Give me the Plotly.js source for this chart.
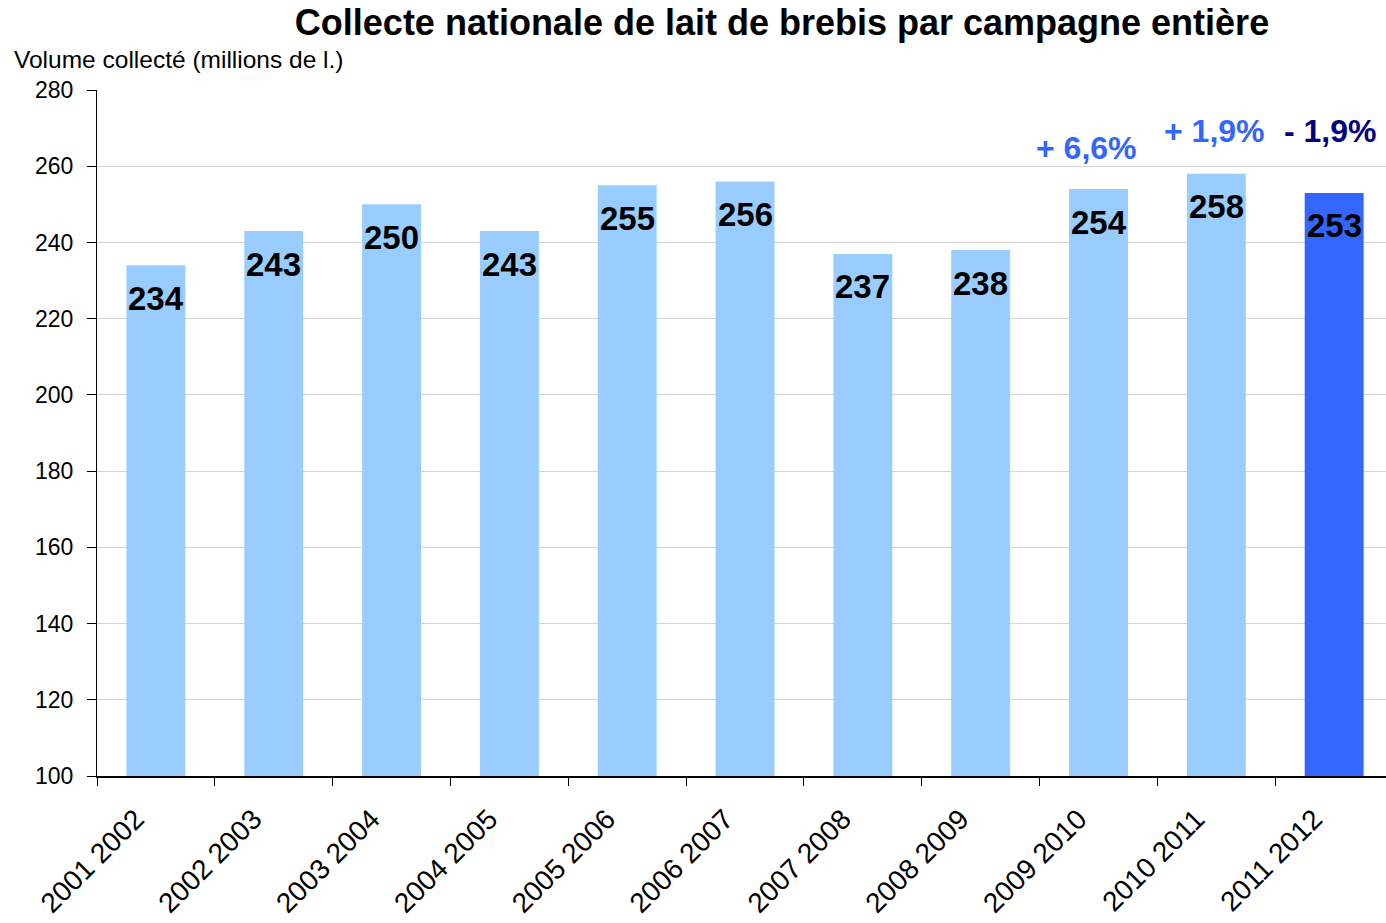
<!DOCTYPE html>
<html>
<head>
<meta charset="utf-8">
<script src="https://cdn.plot.ly/plotly-3.0.1.min.js"></script>
<style>html,body{margin:0;padding:0;background:#fff;}#chart{width:1386px;height:923px;}</style>
</head>
<body>
<div id="chart"></div>
<script>
const campaigns = ["2001 2002","2002 2003","2003 2004","2004 2005","2005 2006","2006 2007","2007 2008","2008 2009","2009 2010","2010 2011","2011 2012"];
const volumes = [234, 243, 250, 243, 255, 256, 237, 238, 254, 258, 253];
const changeCampaigns = ["2009 2010","2010 2011","2011 2012"];
const changeLabels = ["+ 6,6%","+ 1,9%","- 1,9%"];
const changeLabelY = [264.8, 269.2, 269.2];

const FONT = "Liberation Sans, Arial, sans-serif";
const barColors = volumes.map((v,i)=> i === volumes.length-1 ? "#3366FF" : "#99CCFF");
const changeColors = ["#3366FF","#3366FF","#000080"];

const annotations = [];
campaigns.forEach((c,i)=>{
  annotations.push({x:c, y:volumes[i], xref:"x", yref:"y", text:String(volumes[i]),
    showarrow:false, yanchor:"middle", yshift:-33,
    font:{family:FONT, size:33, color:"#000", weight:"bold"}});
});
changeCampaigns.forEach((c,i)=>{
  annotations.push({x:c, y:changeLabelY[i], xref:"x", yref:"y", text:"<b>"+changeLabels[i]+"</b>",
    showarrow:false, yanchor:"middle", xshift: i===0 ? -12 : (i===2 ? -4 : -2),
    font:{family:FONT, size:32, color:changeColors[i]}});
});
annotations.push({x:(12-97)/1289, y:1+(90-59)/686, xref:"paper", yref:"paper",
  xanchor:"left", yanchor:"middle", showarrow:false,
  text:"Volume collecté (millions de l.)", font:{family:FONT, size:24.5, color:"#000"}});

const data = [{
  type:"bar", x:campaigns, y:volumes,
  marker:{color:barColors, line:{width:0}},
  hoverinfo:"x+y"
}];

const layout = {
  width:1386, height:923,
  margin:{l:97, r:0, t:90, b:147},
  paper_bgcolor:"#fff", plot_bgcolor:"#fff",
  bargap:0.5,
  showlegend:false,
  title:{text:"<b>Collecte nationale de lait de brebis par campagne entière</b>",
    x:782/1386, xanchor:"center", xref:"container",
    y:1-22/923, yanchor:"middle", yref:"container",
    font:{family:FONT, size:36, color:"#000"}},
  xaxis:{type:"category", range:[-0.5,10.44], tickangle:-45,
    tickfont:{family:FONT, size:28, color:"#000"},
    ticks:"outside", ticklen:8, tickcolor:"#000", tickson:"boundaries",
    ticklabelstandoff:14, ticklabelshift:-20,
    showline:true, linecolor:"#000", linewidth:1.5, showgrid:false, zeroline:false},
  yaxis:{range:[100,280], dtick:20, tick0:100,
    tickfont:{family:FONT, size:23, color:"#000"},
    ticks:"outside", ticklen:9, tickcolor:"#000", ticklabelstandoff:9,
    showline:true, linecolor:"#000", linewidth:1,
    showgrid:true, gridcolor:"#d4d4d4", gridwidth:1, zeroline:false},
  annotations:annotations
};

Plotly.newPlot("chart", data, layout, {displayModeBar:false, staticPlot:true});
</script>
</body>
</html>
